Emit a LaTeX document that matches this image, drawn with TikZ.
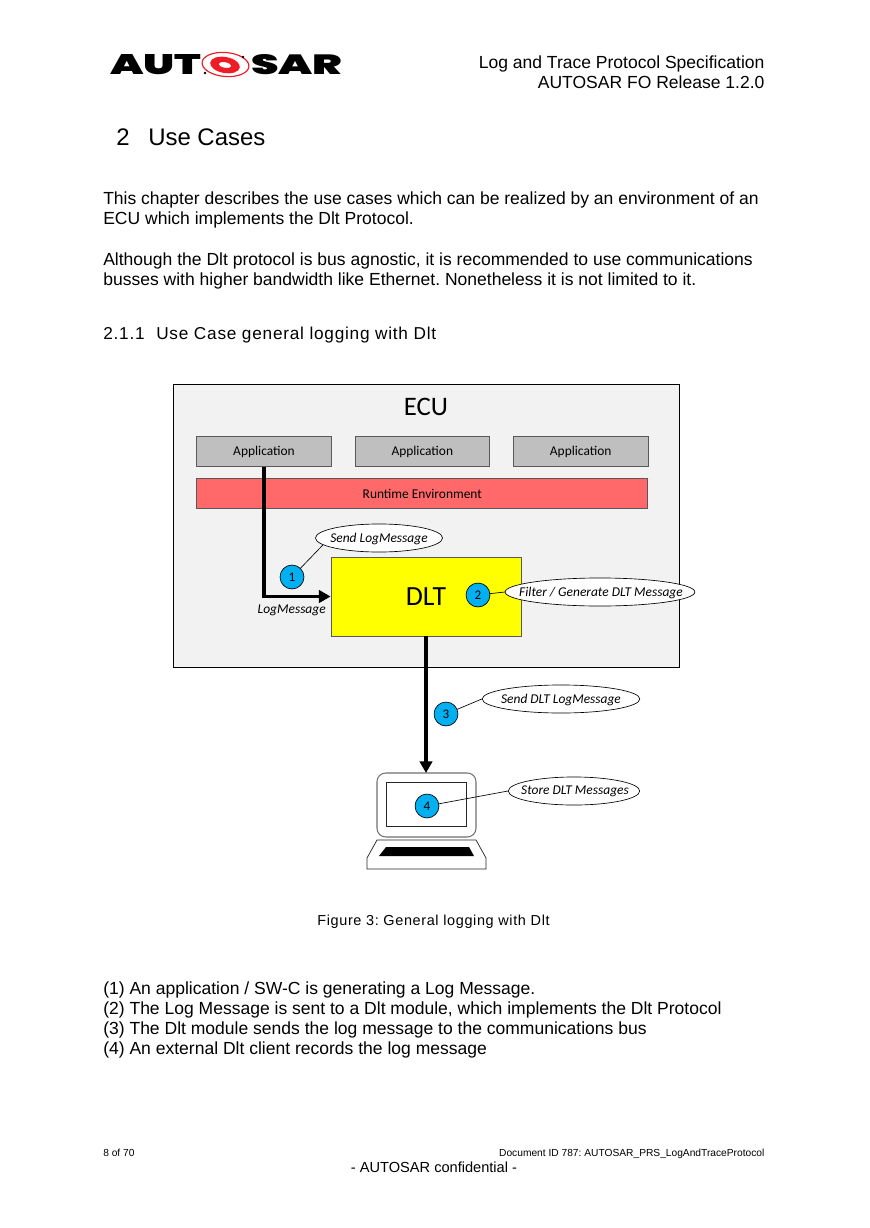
\documentclass[tikz,border=0pt]{standalone}
\usepackage{fontspec}
\usepackage{graphicx}
\setmainfont{Liberation Sans}
\newfontfamily\calfont{Carlito}
\newfontfamily\spacedfont[LetterSpace=4.4]{Liberation Sans}
\newfontfamily\logofont{Poppins Black}
\usetikzlibrary{shapes.geometric,arrows.meta}
\definecolor{ecubg}{HTML}{F2F2F2}
\definecolor{appgray}{HTML}{BFBFBF}
\definecolor{rtered}{HTML}{FF6969}
\definecolor{stepblue}{HTML}{00B0F0}
\definecolor{lapgray}{HTML}{707070}
\definecolor{logored}{HTML}{EE1C25}
\definecolor{dltyellow}{HTML}{FFFF00}
\newcommand{\notetext}[1]{\makebox[0pt][c]{\rule{0pt}{0pt}#1}}
\tikzset{
  txt/.style={anchor=base west,inner sep=0pt,font=\fontsize{12}{14}\selectfont},
  rtxt/.style={anchor=base east,inner sep=0pt,font=\fontsize{12}{14}\selectfont},
  appbox/.style={draw=black!65,line width=0.5pt,fill=appgray,minimum width=92pt,minimum height=21pt,inner sep=0pt,font=\calfont\fontsize{9.2}{11}\selectfont},
  numdot/.style={circle,draw=black,line width=0.45pt,fill=stepblue,minimum size=16.4pt,inner sep=0pt,font=\calfont\fontsize{9}{11}\selectfont},
  note/.style={ellipse,draw=black,line width=0.45pt,fill=white,inner sep=0pt,minimum height=19.2pt,font=\calfont\itshape\fontsize{9.2}{11}\selectfont},
  notelab/.style={inner sep=0pt,font=\calfont\itshape\fontsize{9.2}{11}\selectfont},
  lead/.style={draw=black,line width=0.45pt},
  flow/.style={draw=black,line width=2.2pt,-{Triangle[length=8pt,width=8.5pt]}},
  logotxt/.style={anchor=west,inner sep=0pt},
}
\begin{document}
\frenchspacing
\begin{tikzpicture}[x=0.685pt,y=-0.685pt]
\useasboundingbox[fill=white] (0,0) rectangle (869,1228);

% logo
\node[logotxt] (logoa) at (110,65) {\resizebox{62.5pt}{13.7pt}{\logofont AUT}};
\node[logotxt] (logob) at (251,65) {\resizebox{62.5pt}{13.7pt}{\logofont SAR}};
\draw[logored,line width=0.8pt,rotate around={-5:(225.5,64.5)}] (225.5,64.5) ellipse [x radius=23.5,y radius=12];
\fill[logored,even odd rule,rotate around={-10:(225,65)}] (225,65) ellipse [x radius=15,y radius=8] (225,65) ellipse [x radius=6.5,y radius=2.8];
\fill[black] (205,73) circle [radius=1.3] (243,57) circle [radius=1.3];

% header
\node[rtxt] (hdra) at (764.7,69) {Log and Trace Protocol Specification};
\node[rtxt] (hdrb) at (764.7,89) {AUTOSAR FO Release 1.2.0};

% chapter
\node[txt,font=\fontsize{16.4}{19}\selectfont] (chapnum) at (116,146) {2};
\node[txt,font=\fontsize{16.4}{19}\selectfont] (chap) at (148,146) {Use Cases};

\node[txt] (p1) at (103,204.8) {This chapter describes the use cases which can be realized by an environment of an};
\node[txt] (p2) at (103,224.8) {ECU which implements the Dlt Protocol.};
\node[txt] (p3) at (103,265.8) {Although the Dlt protocol is bus agnostic, it is recommended to use communications};
\node[txt] (p4) at (103,285.8) {busses with higher bandwidth like Ethernet. Nonetheless it is not limited to it.};

\node[txt,font=\spacedfont\fontsize{11.8}{14}\selectfont] (secnum) at (103,339.8) {2.1.1};
\node[txt,font=\spacedfont\fontsize{11.8}{14}\selectfont] (sec) at (156,339.8) {Use Case general logging with Dlt};

% diagram
\node[draw=black,line width=0.5pt,fill=ecubg,minimum width=346.6pt,minimum height=193.9pt,inner sep=0pt,anchor=north west] (ecu) at (173,383.5) {};
\node[inner sep=0pt,font=\calfont\fontsize{18.3}{21}\selectfont] (ecul) at (426,407) {ECU};
\node[appbox] (app1) at (264,451.5) {Application};
\node[appbox] (app2) at (422.3,451.5) {Application};
\node[appbox] (app3) at (580.7,451.5) {Application};
\node[appbox,fill=rtered,minimum width=309pt] (rte) at (422.3,493.5) {Runtime Environment};
\node[draw=black!65,line width=0.5pt,fill=dltyellow,minimum width=130.2pt,minimum height=54.1pt,inner sep=0pt,font=\calfont\fontsize{19}{22}\selectfont] (dlt) at (426,596.5) {DLT};

% laptop
\draw[lapgray,line width=0.7pt,fill=white,rounded corners=6pt] (377,837) -- (377,773) -- (476,773) -- (476,837) -- cycle;
\node[draw=black!85,line width=0.5pt,minimum width=54.8pt,minimum height=30.1pt,inner sep=0pt] (screen) at (426,804) {};
\draw[black!85,line width=0.5pt,fill=white] (377,840) -- (476,840) -- (486,858) -- (486,869) -- (367,869) -- (367,858) -- cycle;
\fill[black] (386,847) -- (469,847) -- (474,856) -- (379,856) -- cycle;
\coordinate (laptop) at (426,773);

% flows
\draw[flow] (app1.south) |- (dlt.west);
\draw[flow] (dlt.south) -- (laptop);
\node[anchor=base east,inner sep=0pt,font=\calfont\itshape\fontsize{9.2}{11}\selectfont] (lm) at (326,613) {LogMessage};

% notes
\node[note,minimum width=87pt] (n1) at (379,538) {\notetext{}};
\node[note,minimum width=130pt] (n2) at (600,592) {\notetext{}};
\node[note,minimum width=108pt] (n3) at (561,699) {\notetext{}};
\node[note,minimum width=90pt] (n4) at (574,791) {\notetext{}};
\node[notelab] (t1) at (379,538.5) {Send LogMessage};
\node[notelab] (t2) at (601,592.5) {Filter / Generate DLT Message};
\node[notelab] (t3) at (561,699.5) {Send DLT LogMessage};
\node[notelab] (t4) at (575,791.5) {Store DLT Messages};

\node[numdot] (d1) at (292,577) {1};
\node[numdot] (d2) at (478,595) {2};
\node[numdot] (d3) at (446,714) {3};
\node[numdot] (d4) at (427,806) {4};

\draw[lead] (d1) -- (n1.187);
\draw[lead] (d2) -- (n2.west);
\draw[lead] (d3) -- (n3.west);
\draw[lead] (d4) -- (n4.west);

% caption
\node[anchor=base,inner sep=0pt,font=\spacedfont\fontsize{9.9}{12}\selectfont] (cap) at (433.5,925) {Figure 3: General logging with Dlt};

% list
\node[txt] (l1) at (103,994) {(1) An application / SW-C is generating a Log Message.};
\node[txt] (l2) at (103,1014) {(2) The Log Message is sent to a Dlt module, which implements the Dlt Protocol};
\node[txt] (l3) at (103,1034) {(3) The Dlt module sends the log message to the communications bus};
\node[txt] (l4) at (103,1054) {(4) An external Dlt client records the log message};

% footer
\node[txt,font=\fontsize{7}{9}\selectfont] (fa) at (103,1156) {8 of 70};
\node[anchor=base east,inner sep=0pt,font=\fontsize{7}{9}\selectfont] (fb) at (764.7,1156) {Document ID 787: AUTOSAR\_PRS\_LogAndTraceProtocol};
\node[anchor=base,inner sep=0pt,font=\fontsize{10}{12}\selectfont] (fc) at (434,1172) {- AUTOSAR confidential -};
\end{tikzpicture}
\end{document}
